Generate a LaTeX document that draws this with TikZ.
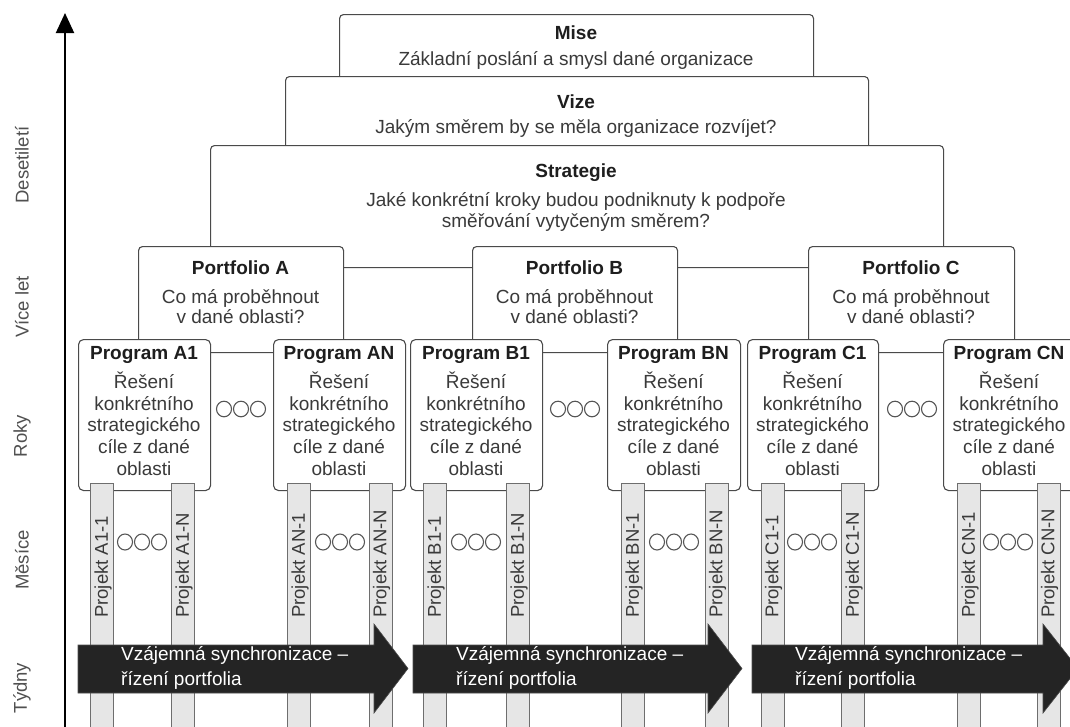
\documentclass[tikz,border=0pt]{standalone}
\usepackage{fontspec}
\setmainfont{Liberation Sans}
\usetikzlibrary{arrows.meta}
\definecolor{linec}{HTML}{4A4A4A}
\definecolor{titc}{HTML}{1E1E1E}
\definecolor{txtc}{HTML}{3A3A3A}
\definecolor{sidec}{HTML}{505050}
\definecolor{barc}{HTML}{E6E6E6}
\definecolor{barline}{HTML}{6E6E6E}
\definecolor{arrowc}{HTML}{242424}
\definecolor{dotc}{HTML}{555555}
\begin{document}
\begin{tikzpicture}[x=1pt,y=-1pt,
  box/.style={draw=linec, fill=white, rounded corners=4pt, line width=1.1pt, inner sep=0pt, anchor=north west},
  ttl/.style={font=\fontsize{19}{22}\selectfont\bfseries, text=titc, inner sep=0pt},
  bod/.style={font=\fontsize{19}{21.7}\selectfont, text=txtc, align=center, inner sep=0pt},
  pbod/.style={font=\fontsize{19}{20}\selectfont, text=txtc, align=center, inner sep=0pt},
  sbod/.style={font=\fontsize{19}{21}\selectfont, text=txtc, align=center, inner sep=0pt},
  side/.style={font=\fontsize{18.5}{20}\selectfont, text=sidec, rotate=90, inner sep=0pt},
  projbar/.style={draw=barline, fill=barc, line width=0.9pt, minimum width=23pt, minimum height=270pt, anchor=north, inner sep=0pt},
  plbl/.style={font=\fontsize{18.5}{20}\selectfont, text=txtc, rotate=90, anchor=west, inner sep=0pt},
  dotring/.style={draw=dotc, line width=1.1pt},
  syncarrow/.style={fill=arrowc, draw=black!70, line width=0.6pt},
  atxt/.style={font=\fontsize{19}{25}\selectfont, text=white, align=left, anchor=west, inner sep=0pt}
]
\useasboundingbox (0,0) rectangle (1070,726);
\clip (0,0) rectangle (1070,726);

% top levels
\node[box, minimum width=474pt, minimum height=80pt] (mise) at (339,14) {};
\node[box, minimum width=583pt, minimum height=84pt] (vize) at (285,76) {};
\node[box, minimum width=733pt, minimum height=122pt] (strat) at (210,145) {};
\node[ttl] (miseT) at (576,33) {Mise};
\node[bod] (miseB) at (576,60) {Základní poslání a smysl dané organizace};
\node[ttl] (vizeT) at (576,102) {Vize};
\node[bod] (vizeB) at (576,128) {Jakým směrem by se měla organizace rozvíjet?};
\node[ttl] (stratT) at (576,173) {Strategie};
\node[sbod] (stratB) at (576,211.5) {Jaké konkrétní kroky budou podniknuty k podpoře\\směřování vytyčeným směrem?};

% portfolios
\foreach \n/\x/\w/\l in {A/138/205/A, B/472/205/B, C/808/206/C}{
  \node[box, minimum width=\w pt, minimum height=106pt] (port\n) at (\x,246) {};
  \node[ttl] (port\n T) at (\x+\w/2,268) {Portfolio \l};
  \node[pbod] (port\n B) at (\x+\w/2,307) {Co má proběhnout\\v dané oblasti?};
}

% programs
\foreach \n/\x/\w in {A1/78/132, AN/273/132, B1/410/132, BN/607/133, C1/747/131, CN/943/132}{
  \node[box, rounded corners=5pt, minimum width=\w pt, minimum height=151pt] (prog\n) at (\x,339) {};
  \node[ttl] (prog\n T) at (\x+\w/2,355) {Program \n};
  \node[bod] (prog\n B) at (\x+\w/2,423.5) {Řešení\\konkrétního\\strategického\\cíle z dané\\oblasti};
}

% ellipses between programs
\foreach \c [count=\i] in {241,575,912}{
  \foreach \d in {-17,0,17}{
    \draw[dotring] (\c+\d,409) ellipse [x radius=7.5pt, y radius=7.8pt];
  }
}

% project bars
\foreach \n/\c in {A1-1/102, A1-N/183, AN-1/299, AN-N/380.5, B1-1/435, B1-N/518, BN-1/633, BN-N/716.5, C1-1/772.5, C1-N/853, CN-1/969, CN-N/1048.5}{
  \node[projbar] (bar\n) at (\c,483) {};
  \node[plbl] (lbl\n) at (\c+1,618) {Projekt \n};
}

% ellipses between projects
\foreach \c in {142,340,476,674,812,1008}{
  \foreach \d in {-17,0,17}{
    \draw[dotring] (\c+\d,542) ellipse [x radius=7.5pt, y radius=8pt];
  }
}

% synchronization arrows
\foreach \a/\b/\t [count=\i] in {78/374/408, 413/708/742, 752/1043/1078}{
  \path[syncarrow] (\a,645) -- (\b,645) -- (\b,624) -- (\t,668.5) -- (\b,713) -- (\b,693) -- (\a,693) -- cycle;
  \node[atxt] (sync\i) at (\a+43,668) {Vzájemná synchronizace –\\řízení portfolia};
}

% time axis
\coordinate (axb) at (65,730);
\coordinate (axt) at (65,13);
\draw[line width=2pt, -{Triangle[length=20pt,width=18pt]}] (axb) -- (axt);
\node[side] (s1) at (22,165) {Desetiletí};
\node[side] (s2) at (22,307) {Více let};
\node[side] (s3) at (22,436) {Roky};
\node[side] (s4) at (22,560) {Měsíce};
\node[side] (s5) at (22,688) {Týdny};
\end{tikzpicture}
\end{document}
